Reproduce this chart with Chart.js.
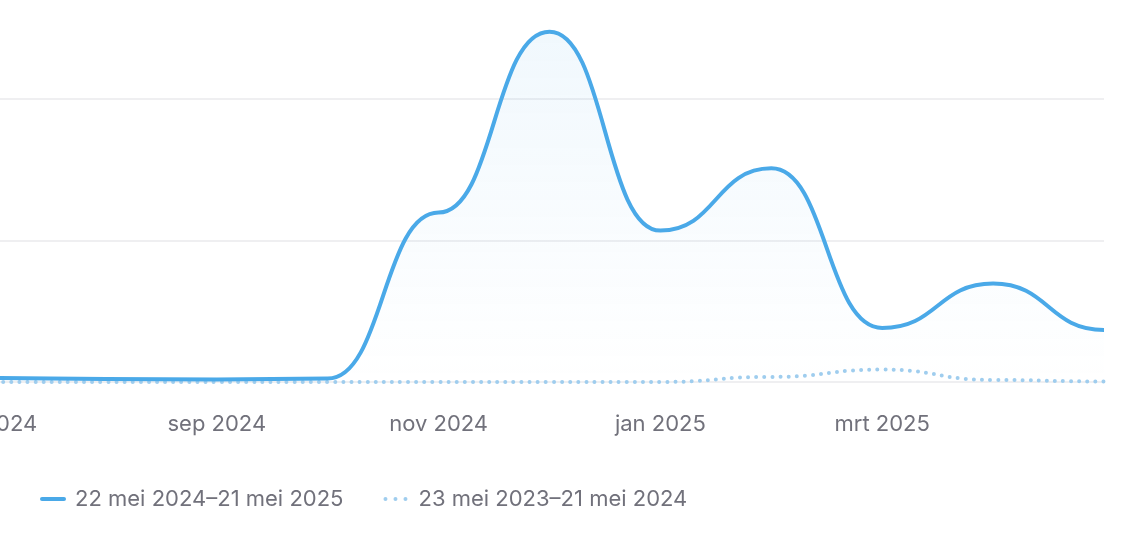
<!DOCTYPE html>
<html>
<head>
<meta charset="utf-8">
<script src="https://cdn.jsdelivr.net/npm/chart.js@4.4.1/dist/chart.umd.min.js"></script>
<style>
  html, body { margin: 0; padding: 0; background: #fff; }
  #wrap { position: relative; width: 1136px; height: 552px; overflow: hidden; }
</style>
</head>
<body>
<div id="wrap"><canvas id="chart" width="1136" height="552"></canvas></div>
<script>
// maanden (één punt per maand)
const months = ['jun 2024', 'jul 2024', 'aug 2024', 'sep 2024', 'okt 2024', 'nov 2024',
  'dec 2024', 'jan 2025', 'feb 2025', 'mrt 2025', 'apr 2025', 'mei 2025'];
const current = [2.1, 1.4, 1.1, 0.9, 1.2, 59.9, 123.8, 53.5, 75.5, 19.1, 34.8, 18.4];
const previous = [0, 0, 0, 0, 0, 0, 0, 0, 1.8, 4.4, 0.7, 0.2];
const currentLabel = '22 mei 2024\u201321 mei 2025';
const previousLabel = '23 mei 2023\u201321 mei 2024';
const xTicks = [1, 3, 5, 7, 9];
const yTicks = [0, 50, 100];

const blue = '#4aa9e8';
const lightBlue = '#9fcdee';
const textGray = '#71717b';

// horizontale raaklijnen in elk punt (bump-curve)
const bumpCurve = {
  id: 'bumpCurve',
  afterDatasetsUpdate(chart) {
    chart.getSortedVisibleDatasetMetas().forEach(meta => {
      const line = meta.dataset;
      line.updateControlPoints(chart.chartArea, 'x');
      const pts = meta.data;
      pts.forEach((p, i) => {
        const prev = pts[i - 1], next = pts[i + 1];
        p.cp1x = prev ? p.x - (p.x - prev.x) / 2 : p.x;
        p.cp1y = p.y;
        p.cp2x = next ? p.x + (next.x - p.x) / 2 : p.x;
        p.cp2y = p.y;
      });
    });
  }
};

function areaFill(ctx) {
  const area = ctx.chart.chartArea;
  if (!area) return 'rgba(74,169,232,0.05)';
  const g = ctx.chart.ctx.createLinearGradient(0, area.top, 0, area.bottom);
  g.addColorStop(0, 'rgba(74,169,232,0.085)');
  g.addColorStop(1, 'rgba(74,169,232,0)');
  return g;
}

new Chart(document.getElementById('chart'), {
  type: 'line',
  data: {
    datasets: [{
      label: currentLabel,
      data: current.map((v, i) => ({ x: i, y: v })),
      borderColor: blue,
      borderWidth: 4,
      backgroundColor: areaFill,
      fill: 'origin',
      tension: 0.4,
      pointRadius: 0,
      clip: false
    }, {
      label: previousLabel,
      data: previous.map((v, i) => ({ x: i, y: v })),
      borderColor: lightBlue,
      borderWidth: 4,
      borderDash: [0, 8.1],
      borderCapStyle: 'round',
      fill: false,
      tension: 0.4,
      pointRadius: 0,
      clip: false
    }]
  },
  options: {
    responsive: false,
    animation: false,
    devicePixelRatio: 1,
    layout: { padding: { left: 0, right: 32, top: 0, bottom: 32 } },
    plugins: {
      tooltip: { enabled: false },
      legend: {
        position: 'bottom',
        align: 'start',
        labels: {
          usePointStyle: true,
          pointStyleWidth: 22,
          padding: 42,
          color: textGray,
          font: { family: 'Inter', size: 22 },
          generateLabels(chart) {
            const items = Chart.defaults.plugins.legend.labels.generateLabels(chart);
            items.forEach(it => {
              it.pointStyle = 'line';
              it.lineCap = 'round';
              it.lineWidth = 4;
            });
            items[1].lineDash = [0, 10];
            return items;
          }
        }
      }
    },
    scales: {
      x: {
        type: 'linear',
        min: 1.045,
        max: 11,
        grid: { display: false, drawTicks: false },
        border: { display: false },
        afterBuildTicks: axis => { axis.ticks = xTicks.map(v => ({ value: v })); },
        afterFit: axis => {
          axis.height = 64;
          axis.paddingLeft = 0;
          axis.paddingRight = 0;
        },
        ticks: {
          autoSkip: false,
          maxRotation: 0,
          padding: 29,
          color: textGray,
          font: { family: 'Inter', size: 22 },
          callback: v => months[v]
        }
      },
      y: {
        min: 0,
        max: 135,
        afterBuildTicks: axis => { axis.ticks = yTicks.map(v => ({ value: v })); },
        grid: { color: '#efeff1', lineWidth: 2, drawTicks: false },
        border: { display: false },
        ticks: { display: false }
      }
    }
  },
  plugins: [bumpCurve]
});
</script>
</body>
</html>
